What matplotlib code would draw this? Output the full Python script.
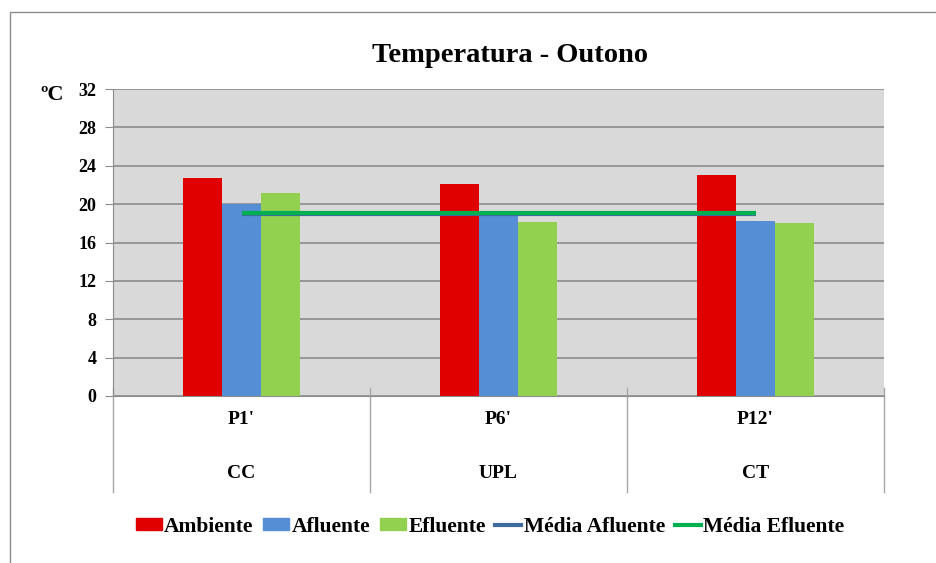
import matplotlib
matplotlib.use("Agg")
import matplotlib.pyplot as plt
import matplotlib.transforms as mtransforms
from matplotlib.patches import Patch, Rectangle
from matplotlib.lines import Line2D
import numpy as np

plt.rcParams['font.family'] = ['Liberation Serif', 'DejaVu Serif']
plt.rcParams['font.weight'] = 'bold'

points = ["P1'", "P6'", "P12'"]
groups = ["CC", "UPL", "CT"]
ambiente = [22.7, 22.1, 23.0]
afluente = [20.0, 19.0, 18.2]
efluente = [21.2, 18.1, 18.0]
media_afluente = [19.0, 19.0, 19.0]
media_efluente = [19.1, 19.1, 19.1]
yticks = [0, 4, 8, 12, 16, 20, 24, 28, 32]

c_amb = '#E00000'
c_afl = '#558ED5'
c_efl = '#92D050'
c_mafl = '#3F6A9E'
c_mefl = '#00B050'

fig = plt.figure(figsize=(9.36, 5.63), dpi=100)
fig.patch.set_facecolor('white')
ax = fig.add_axes([113/936, 1-396/563, 771/936, 307/563])
ax.set_facecolor('#D9D9D9')

x = np.arange(len(points))
w = 0.152
ax.bar(x - w, ambiente, w, color=c_amb, zorder=3)
ax.bar(x, afluente, w, color=c_afl, zorder=3)
ax.bar(x + w, efluente, w, color=c_efl, zorder=3)
ax.plot(x, media_afluente, color=c_mafl, lw=3, zorder=4, solid_capstyle='butt')
ax.plot(x, media_efluente, color=c_mefl, lw=3, zorder=5, solid_capstyle='butt')

ax.set_xlim(-0.5, len(points) - 0.5)
ax.set_ylim(0, 32)
ax.set_yticks(yticks)
ax.set_yticklabels([str(v) for v in yticks], fontsize=13, fontweight='bold')
ax.yaxis.grid(True, color='#8C8C8C', lw=1.2, zorder=1)
ax.set_xticks([])
for s in ['top', 'right']:
    ax.spines[s].set_visible(False)
ax.spines['left'].set_color('#8C8C8C')
ax.spines['bottom'].set_color('#8C8C8C')
ax.spines['bottom'].set_zorder(6)
ax.tick_params(axis='y', length=6, color='#8C8C8C', pad=6)

trans = mtransforms.blended_transform_factory(ax.transData, fig.transFigure)
for b in np.arange(-0.5, len(points), 1.0):
    ax.add_line(Line2D([b, b], [1-388/563, 1-492/563], transform=trans,
                       color='#A6A6A6', lw=1, clip_on=False))
for i in range(len(points)):
    ax.text(x[i], 1-420/563, points[i], transform=trans, ha='center', va='center',
            fontsize=14, fontweight='bold')
    ax.text(x[i], 1-473/563, groups[i], transform=trans, ha='center', va='center',
            fontsize=14, fontweight='bold')

fig.text(510/936, 1-56/563, 'Temperatura - Outono', ha='center', va='center',
         fontsize=20.5, fontweight='bold')
fig.text(52/936, 1-95/563, 'ºC', ha='center', va='center', fontsize=16, fontweight='bold')

# chart border
fig.add_artist(Rectangle((10/936, -0.1), 2, 1 - 12/563 + 0.1, transform=fig.transFigure,
                         fill=False, edgecolor='#8C8C8C', lw=1))

handles = [Patch(color=c_amb), Patch(color=c_afl), Patch(color=c_efl),
           Line2D([], [], color=c_mafl, lw=3), Line2D([], [], color=c_mefl, lw=3)]
labels = ['Ambiente', 'Afluente', 'Efluente', 'Média Afluente', 'Média Efluente']
fig.legend(handles, labels, loc='center', bbox_to_anchor=(490/936, 1-527/563), ncol=5,
           frameon=False, prop={'size': 15.5, 'weight': 'bold'}, handlelength=1.2,
           handletextpad=0.12, columnspacing=0.45, handleheight=0.5)

fig.savefig('out.png', dpi=100, facecolor='white')
